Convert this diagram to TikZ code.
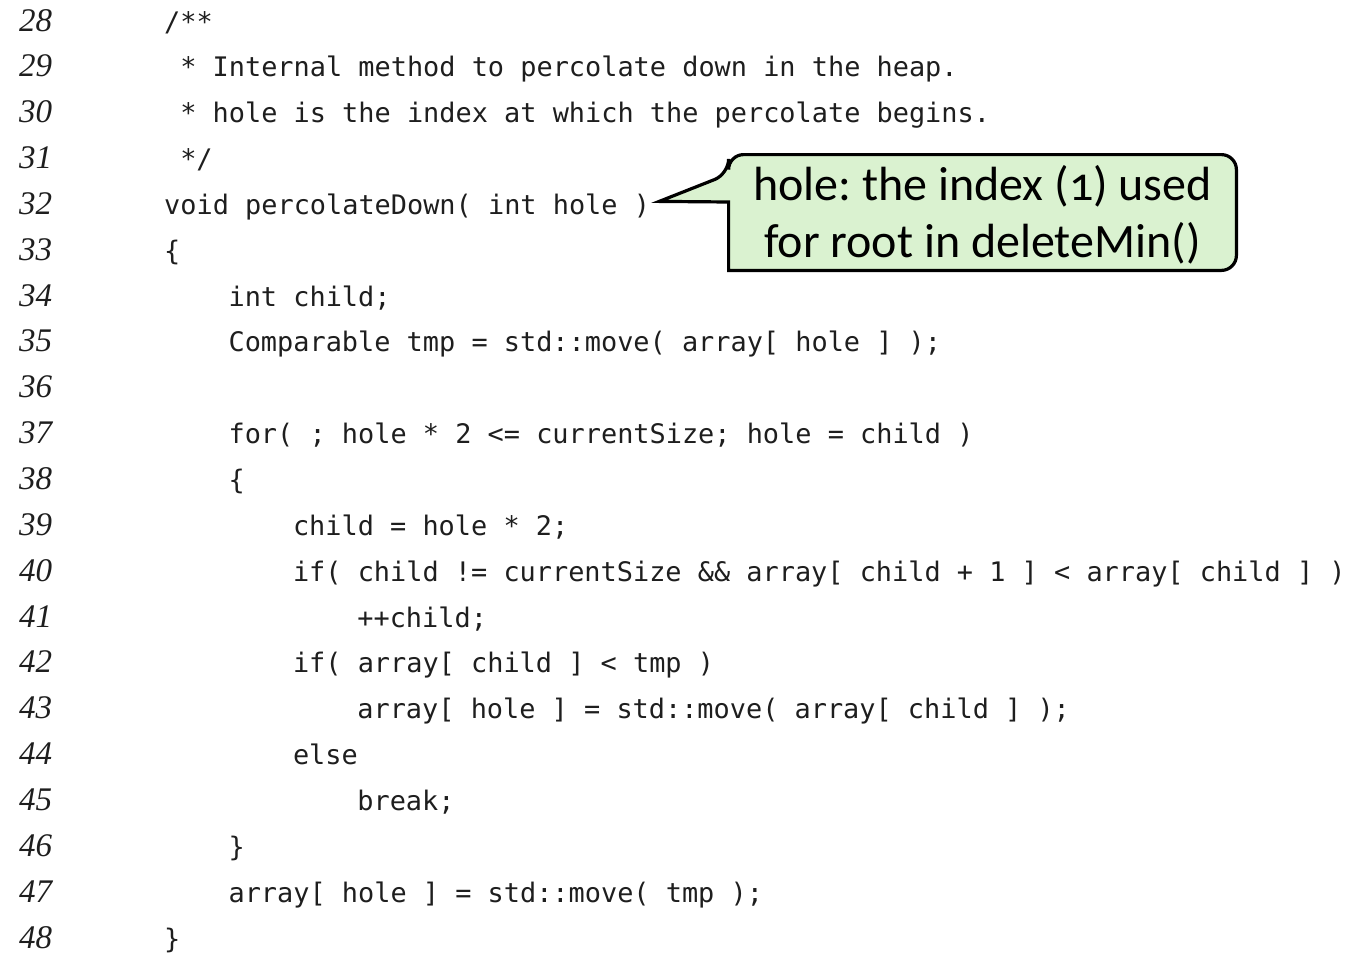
\documentclass[tikz,border=0pt]{standalone}
\usepackage{fontspec}
\newfontfamily\codefont{DejaVu Sans Mono}
\newfontfamily\numfont{Liberation Serif}
\newfontfamily\notefont[Numbers=OldStyle]{Carlito}
\definecolor{notefill}{HTML}{DAF2D0}
\definecolor{ink}{HTML}{1E1E1E}
\frenchspacing

% one source line: number, indent (in columns), code text
\newcommand\srcline[3]{%
  \node[lnum] (n#1) at (19,{31+(#1-28)*45.85}) {#1};
  \node[code] (c#1) at ({164+#2*16.1},{31+(#1-28)*45.85}) {#3};%
}

\begin{document}
\begin{tikzpicture}[x=1pt,y=-1pt,
  code/.style={anchor=base west, inner sep=0pt, text=ink,
    font=\codefont\fontsize{26.9}{30}\selectfont},
  lnum/.style={anchor=base west, inner sep=0pt, text=ink,
    font=\numfont\itshape\fontsize{33}{36}\selectfont},
  notetext/.style={anchor=base, inner sep=0pt, text=black,
    font=\notefont\fontsize{48}{57}\selectfont},
  callout/.style={draw=black, fill=notefill, line width=3.2pt, line join=miter}]

\useasboundingbox (0,0) rectangle (1351,953);

\srcline{28}{0}{/**}
\srcline{29}{1}{* Internal method to percolate down in the heap.}
\srcline{30}{1}{* hole is the index at which the percolate begins.}
\srcline{31}{1}{*/}
\srcline{32}{0}{void percolateDown( int hole )}
\srcline{33}{0}{\{}
\srcline{34}{4}{int child;}
\srcline{35}{4}{Comparable tmp = std::move( array[ hole ] );}
\node[lnum] (n36) at (19,{31+8*45.85}) {36};
\srcline{37}{4}{for( ; hole * 2 <= currentSize; hole = child )}
\srcline{38}{4}{\{}
\srcline{39}{8}{child = hole * 2;}
\srcline{40}{8}{if( child != currentSize \&\& array[ child + 1 ] < array[ child ] )}
\srcline{41}{12}{++child;}
\srcline{42}{8}{if( array[ child ] < tmp )}
\srcline{43}{12}{array[ hole ] = std::move( array[ child ] );}
\srcline{44}{8}{else}
\srcline{45}{12}{break;}
\srcline{46}{4}{\}}
\srcline{47}{4}{array[ hole ] = std::move( tmp );}
\srcline{48}{0}{\}}

% callout box with its pointer to the parameter list
\coordinate (tip) at ([xshift=9pt,yshift=13pt]c32.base east);
\draw[callout] (tip) -- (728.6,202) -- (728.6,270.4)
  [rounded corners=15pt] -- (1236.4,270.4) -- (1236.4,154.6) -- (728.6,154.6)
  -- (728.6,174) [sharp corners] -- cycle;

\node[notetext] (note-a) at (982.5,200) {hole: the index (1) used};
\node[notetext] (note-b) at (982.5,257) {for root in deleteMin()};
\end{tikzpicture}
\end{document}
